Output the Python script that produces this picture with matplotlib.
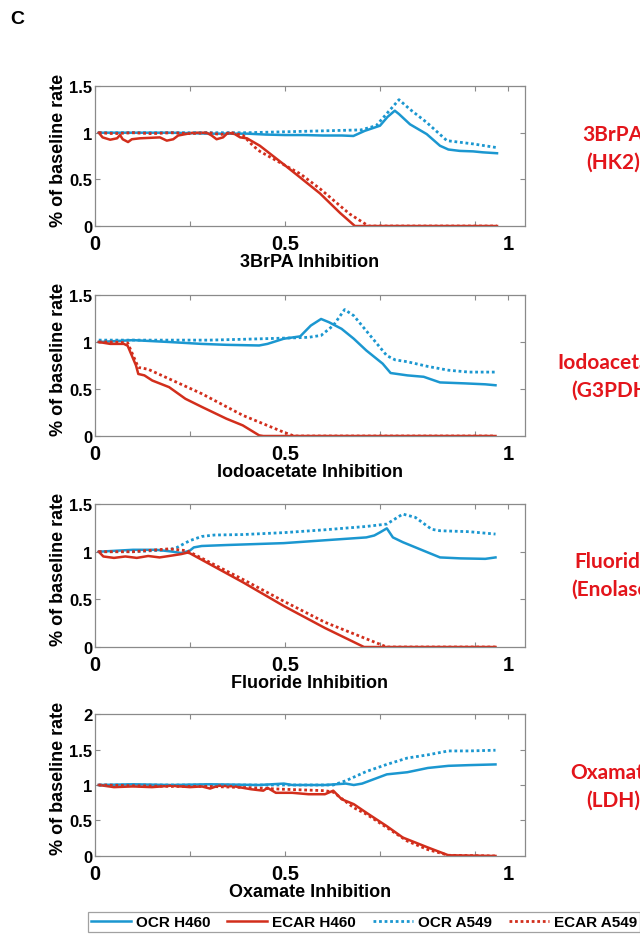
import matplotlib
matplotlib.use('Agg')
import matplotlib.pyplot as plt
from matplotlib.lines import Line2D

# ---------------- data ----------------
# Panel 1: 3BrPA (HK2)
brpa_ocr_h460_x = [0.01, 0.1, 0.2, 0.3, 0.4, 0.45, 0.5, 0.55, 0.6, 0.65, 0.68, 0.71, 0.75, 0.77, 0.789, 0.80, 0.829, 0.873, 0.908, 0.93, 0.96, 0.995, 1.02, 1.058]
brpa_ocr_h460_y = [1.0, 1.0, 1.0, 0.99, 0.99, 0.98, 0.975, 0.975, 0.97, 0.97, 0.965, 1.02, 1.075, 1.17, 1.236, 1.2, 1.09, 0.985, 0.86, 0.82, 0.805, 0.80, 0.79, 0.78]
brpa_ocr_a549_x = [0.01, 0.2, 0.4, 0.5, 0.6, 0.7, 0.74, 0.8, 0.829, 0.873, 0.926, 0.995, 1.058]
brpa_ocr_a549_y = [1.0, 1.0, 1.0, 1.01, 1.02, 1.03, 1.075, 1.354, 1.25, 1.11, 0.915, 0.88, 0.84]
brpa_ecar_h460_x = [0.01, 0.02, 0.04, 0.058, 0.066, 0.073, 0.087, 0.097, 0.118, 0.145, 0.171, 0.189, 0.206, 0.219, 0.258, 0.294, 0.307, 0.32, 0.337, 0.35, 0.368, 0.382, 0.40, 0.434, 0.497, 0.54, 0.592, 0.645, 0.684, 1.058]
brpa_ecar_h460_y = [1.0, 0.95, 0.925, 0.94, 0.975, 0.93, 0.90, 0.93, 0.94, 0.945, 0.95, 0.915, 0.93, 0.97, 1.0, 1.0, 0.97, 0.93, 0.95, 1.0, 0.985, 0.95, 0.94, 0.86, 0.66, 0.52, 0.35, 0.14, 0.0, 0.0]
brpa_ecar_a549_x = [0.01, 0.05, 0.1, 0.15, 0.2, 0.25, 0.3, 0.33, 0.36, 0.39, 0.416, 0.434, 0.5, 0.54, 0.592, 0.67, 0.72, 1.058]
brpa_ecar_a549_y = [1.0, 0.99, 1.0, 0.99, 1.0, 0.99, 1.0, 0.98, 1.0, 0.97, 0.86, 0.80, 0.65, 0.56, 0.40, 0.13, 0.0, 0.0]

# Panel 2: Iodoacetate (G3PDH)
iodo_ocr_h460_x = [0.01, 0.1, 0.195, 0.28, 0.346, 0.432, 0.454, 0.497, 0.54, 0.568, 0.595, 0.616, 0.649, 0.681, 0.714, 0.757, 0.778, 0.822, 0.865, 0.908, 0.973, 1.027, 1.054]
iodo_ocr_h460_y = [1.0, 1.02, 1.0, 0.98, 0.97, 0.963, 0.98, 1.035, 1.06, 1.175, 1.245, 1.21, 1.14, 1.035, 0.91, 0.77, 0.67, 0.645, 0.63, 0.57, 0.56, 0.55, 0.54]
iodo_ocr_a549_x = [0.01, 0.1, 0.2, 0.3, 0.4, 0.53, 0.562, 0.595, 0.627, 0.657, 0.681, 0.724, 0.768, 0.79, 0.822, 0.876, 0.93, 0.984, 1.054]
iodo_ocr_a549_y = [1.02, 1.02, 1.02, 1.02, 1.03, 1.045, 1.05, 1.07, 1.175, 1.345, 1.28, 1.07, 0.855, 0.81, 0.79, 0.74, 0.70, 0.68, 0.68]
iodo_ecar_h460_x = [0.01, 0.04, 0.076, 0.086, 0.097, 0.108, 0.114, 0.13, 0.151, 0.195, 0.238, 0.281, 0.346, 0.389, 0.432, 0.443, 1.054]
iodo_ecar_h460_y = [1.0, 0.98, 0.98, 0.96, 0.855, 0.75, 0.66, 0.645, 0.59, 0.52, 0.396, 0.31, 0.184, 0.113, 0.007, 0.0, 0.0]
iodo_ecar_a549_x = [0.01, 0.05, 0.086, 0.114, 0.14, 0.281, 0.389, 0.497, 0.524, 1.054]
iodo_ecar_a549_y = [1.0, 1.0, 0.99, 0.73, 0.71, 0.45, 0.22, 0.04, 0.0, 0.0]

# Panel 3: Fluoride (Enolase)
fluo_ocr_h460_x = [0.01, 0.1, 0.162, 0.205, 0.227, 0.249, 0.26, 0.281, 0.346, 0.497, 0.605, 0.714, 0.735, 0.751, 0.768, 0.784, 0.81, 0.865, 0.908, 0.962, 1.027, 1.054]
fluo_ocr_h460_y = [1.0, 1.02, 1.02, 1.0, 0.986, 1.01, 1.045, 1.06, 1.07, 1.09, 1.12, 1.15, 1.17, 1.205, 1.245, 1.15, 1.10, 1.01, 0.94, 0.93, 0.925, 0.94]
fluo_ocr_a549_x = [0.01, 0.1, 0.195, 0.216, 0.249, 0.281, 0.314, 0.389, 0.497, 0.605, 0.714, 0.768, 0.81, 0.843, 0.886, 0.908, 0.984, 1.054]
fluo_ocr_a549_y = [1.0, 1.0, 1.02, 1.045, 1.115, 1.16, 1.175, 1.18, 1.20, 1.23, 1.265, 1.29, 1.395, 1.36, 1.235, 1.22, 1.21, 1.185]
fluo_ecar_h460_x = [0.01, 0.022, 0.05, 0.08, 0.11, 0.14, 0.17, 0.195, 0.227, 0.243, 0.249, 0.389, 0.497, 0.605, 0.708, 1.054]
fluo_ecar_h460_y = [1.0, 0.95, 0.935, 0.95, 0.935, 0.955, 0.94, 0.955, 0.975, 0.99, 0.985, 0.68, 0.43, 0.20, 0.0, 0.0]
fluo_ecar_a549_x = [0.01, 0.1, 0.195, 0.243, 0.389, 0.497, 0.605, 0.768, 1.054]
fluo_ecar_a549_y = [1.0, 1.0, 1.03, 1.01, 0.71, 0.48, 0.26, 0.0, 0.0]

# Panel 4: Oxamate (LDH)
oxa_ocr_h460_x = [0.01, 0.1, 0.2, 0.3, 0.432, 0.497, 0.519, 0.605, 0.66, 0.681, 0.703, 0.768, 0.822, 0.876, 0.93, 0.984, 1.054]
oxa_ocr_h460_y = [1.0, 1.01, 1.0, 1.01, 1.0, 1.02, 1.0, 1.0, 1.02, 1.0, 1.02, 1.15, 1.18, 1.24, 1.27, 1.28, 1.29]
oxa_ocr_a549_x = [0.01, 0.2, 0.4, 0.627, 0.66, 0.714, 0.768, 0.822, 0.876, 0.93, 0.984, 1.054]
oxa_ocr_a549_y = [1.0, 1.0, 1.0, 1.0, 1.06, 1.19, 1.29, 1.38, 1.425, 1.48, 1.48, 1.49]
oxa_ecar_h460_x = [0.01, 0.05, 0.1, 0.15, 0.2, 0.25, 0.281, 0.303, 0.324, 0.368, 0.411, 0.443, 0.454, 0.476, 0.519, 0.562, 0.605, 0.627, 0.649, 0.681, 0.714, 0.768, 0.81, 0.876, 0.93, 1.054]
oxa_ecar_h460_y = [1.0, 0.97, 0.98, 0.97, 0.99, 0.97, 0.98, 0.95, 0.99, 0.98, 0.94, 0.92, 0.96, 0.89, 0.89, 0.87, 0.87, 0.92, 0.80, 0.73, 0.61, 0.42, 0.26, 0.12, 0.01, 0.0]
oxa_ecar_a549_x = [0.01, 0.1, 0.2, 0.3, 0.389, 0.497, 0.605, 0.627, 0.681, 0.714, 0.768, 0.822, 0.876, 0.93, 1.054]
oxa_ecar_a549_y = [1.0, 0.99, 0.98, 0.98, 0.965, 0.94, 0.92, 0.90, 0.68, 0.59, 0.40, 0.21, 0.09, 0.01, 0.0]

panel_xlabels = ['3BrPA Inhibition', 'Iodoacetate Inhibition', 'Fluoride Inhibition', 'Oxamate Inhibition']
panel_names = ['3BrPA\n(HK2)', 'Iodoacetate\n(G3PDH)', 'Fluoride\n(Enolase)', 'Oxamate\n(LDH)']
panel_ymax = [1.5, 1.5, 1.5, 2.0]
series_labels = ['OCR H460', 'ECAR H460', 'OCR A549', 'ECAR A549']
xtick_labels = ['0', '', '0.5', '', '', '1']

panels = [
    [(brpa_ocr_h460_x, brpa_ocr_h460_y), (brpa_ecar_h460_x, brpa_ecar_h460_y),
     (brpa_ocr_a549_x, brpa_ocr_a549_y), (brpa_ecar_a549_x, brpa_ecar_a549_y)],
    [(iodo_ocr_h460_x, iodo_ocr_h460_y), (iodo_ecar_h460_x, iodo_ecar_h460_y),
     (iodo_ocr_a549_x, iodo_ocr_a549_y), (iodo_ecar_a549_x, iodo_ecar_a549_y)],
    [(fluo_ocr_h460_x, fluo_ocr_h460_y), (fluo_ecar_h460_x, fluo_ecar_h460_y),
     (fluo_ocr_a549_x, fluo_ocr_a549_y), (fluo_ecar_a549_x, fluo_ecar_a549_y)],
    [(oxa_ocr_h460_x, oxa_ocr_h460_y), (oxa_ecar_h460_x, oxa_ecar_h460_y),
     (oxa_ocr_a549_x, oxa_ocr_a549_y), (oxa_ecar_a549_x, oxa_ecar_a549_y)],
]

# ---------------- style ----------------
BLUE = '#1b97d0'
RED = '#d22e1c'
LABEL_RED = '#e3151b'
AXGRAY = '#8a8a8a'
colors = [BLUE, RED, BLUE, RED]
dotted = (0, (1.0, 1.0))
styles = ['-', '-', dotted, dotted]
widths = [1.8, 1.8, 2.0, 2.0]

plt.rcParams['font.family'] = ['Liberation Sans', 'DejaVu Sans']

fig = plt.figure(figsize=(6.4, 9.37), dpi=100)
rects = [
    [0.1484, 0.7577, 0.6719, 0.1494],
    [0.1484, 0.5336, 0.6719, 0.1505],
    [0.1484, 0.3084, 0.6719, 0.1526],
    [0.1484, 0.0854, 0.6719, 0.1515],
]
name_y = [149, 377, 576, 787]

for i, rect in enumerate(rects):
    ax = fig.add_axes(rect)
    for (xs, ys), c, ls, lw in zip(panels[i], colors, styles, widths):
        ax.plot(xs, ys, color=c, linestyle=ls, linewidth=lw)
    ax.set_xlim(0, 1.1316)
    ax.set_ylim(0, panel_ymax[i])
    yt = [0, 0.5, 1, 1.5] if panel_ymax[i] == 1.5 else [0, 0.5, 1, 1.5, 2]
    ax.set_yticks(yt)
    ax.set_yticklabels(['0', '0.5', '1', '1.5'] if panel_ymax[i] == 1.5 else ['0', '0.5', '1', '1.5', '2'],
                       fontsize=12, fontweight='bold')
    ax.set_xticks([0, 0.25, 0.5, 0.75, 1.0, 1.087])
    ax.set_xticklabels(xtick_labels, fontsize=14.5, fontweight='bold')
    lastt = ax.xaxis.get_major_ticks()[-1]
    lastt.tick1line.set_visible(False)
    lastt.tick2line.set_visible(False)
    ax.tick_params(axis='both', direction='in', top=True, right=True, length=3.5,
                   width=0.8, color=AXGRAY, labelcolor='black')
    ax.tick_params(axis='y', pad=2)
    ax.tick_params(axis='x', pad=6)
    for s in ax.spines.values():
        s.set_color(AXGRAY)
        s.set_linewidth(0.9)
    ax.set_xlabel(panel_xlabels[i], fontsize=13, fontweight='bold')
    ax.xaxis.set_label_coords(0.5, -0.19)
    ax.set_ylabel('% of baseline rate', fontsize=13, fontweight='bold')
    ax.yaxis.set_label_coords(-0.065, 0.55)
    fig.text(613 / 640, 1 - name_y[i] / 937, panel_names[i], color=LABEL_RED,
             fontsize=15, fontweight='bold', family=['Lato', 'DejaVu Sans'],
             ha='center', va='center', linespacing=1.5)

fig.text(17 / 640, 1 - 20 / 937, 'C', fontsize=14, fontweight='bold', ha='center', va='center')

handles = [Line2D([], [], color=c, linestyle=ls, linewidth=lw) for c, ls, lw in zip(colors, styles, widths)]
leg = fig.legend(handles, series_labels, loc='upper left', bbox_to_anchor=(88 / 640, 1 - 913 / 937),
                 ncol=4, frameon=True, fancybox=False, edgecolor=AXGRAY,
                 prop={'weight': 'bold', 'size': 11}, handlelength=2.6, handletextpad=0.35,
                 columnspacing=1.1, borderpad=0.2, borderaxespad=0)
leg.get_frame().set_linewidth(0.9)

fig.savefig('out.png', dpi=100)
